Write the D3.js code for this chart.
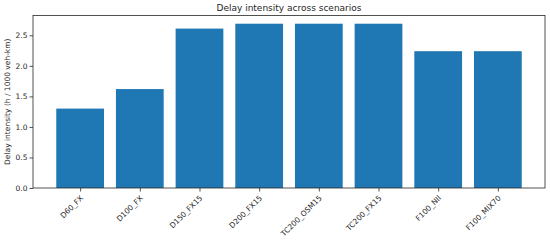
<!DOCTYPE html>
<html>
<head>
<meta charset="utf-8">
<script src="https://cdn.jsdelivr.net/npm/d3@7"></script>
<style>
body { margin: 0; background: #fff; }
text { font-family: "DejaVu Sans", sans-serif; fill: #262626; }
</style>
</head>
<body>
<div id="chart-area"></div>
<script>
// Data
var scenarios = ["D60_FX", "D100_FX", "D150_FX15", "D200_FX15", "TC200_OSM15", "TC200_FX15", "F100_NII", "F100_MIX70"];
var delayValues = [1.30, 1.62, 2.61, 2.69, 2.69, 2.69, 2.24, 2.24];
var yTicks = [0.0, 0.5, 1.0, 1.5, 2.0, 2.5];

var margin = { left: 33, right: 5, top: 15.5, bottom: 52 },
    width = 550 - margin.left - margin.right,
    height = 240 - margin.top - margin.bottom;

var svg = d3.select("#chart-area").append("svg")
    .attr("width", 550)
    .attr("height", 240);

var g = svg.append("g")
    .attr("transform", "translate(" + margin.left + "," + margin.top + ")");

// Scales (matplotlib-like margins)
var x_scale = d3.scaleLinear().domain([-0.79, 7.79]).range([0, width]);
var y_scale = d3.scaleLinear().domain([0, 2.69 * 1.05]).range([height, 0]);
var barWidth = 0.8;

// Bars
g.selectAll(".bar")
    .data(delayValues)
    .enter().append("rect")
    .attr("class", "bar")
    .attr("x", function(d, i) { return x_scale(i - barWidth / 2); })
    .attr("width", x_scale(barWidth) - x_scale(0))
    .attr("y", function(d) { return y_scale(d); })
    .attr("height", function(d) { return height - y_scale(d); })
    .attr("fill", "#1f77b4");

// Axes
var xAxisCall = d3.axisBottom(x_scale)
    .tickValues(d3.range(scenarios.length))
    .tickFormat(function(i) { return scenarios[i]; })
    .tickSize(3.5)
    .tickSizeOuter(0);
var yAxisCall = d3.axisLeft(y_scale)
    .tickValues(yTicks)
    .tickFormat(d3.format(".1f"))
    .tickSize(3.5)
    .tickSizeOuter(0);

var xAxis = g.append("g")
    .attr("transform", "translate(0," + height + ")")
    .call(xAxisCall);
xAxis.select(".domain").remove();
xAxis.selectAll("text")
    .attr("font-size", "7.5px")
    .attr("text-anchor", "end")
    .attr("dy", null)
    .attr("y", 0)
    .attr("transform", "translate(3,10.5) rotate(-45)");

var yAxis = g.append("g").call(yAxisCall);
yAxis.select(".domain").remove();
yAxis.selectAll("text")
    .attr("font-size", "7.5px")
    .attr("x", -5.5);

g.selectAll(".tick line").attr("stroke", "#262626").attr("stroke-width", 0.8);

// Frame
g.append("rect")
    .attr("width", width)
    .attr("height", height)
    .attr("fill", "none")
    .attr("stroke", "#262626")
    .attr("stroke-width", 0.8);

// Title
svg.append("text")
    .attr("x", margin.left + width / 2)
    .attr("y", 11)
    .attr("text-anchor", "middle")
    .attr("font-size", "9px")
    .text("Delay intensity across scenarios");

// Y label
svg.append("text")
    .attr("transform", "rotate(-90)")
    .attr("x", -(margin.top + height / 2))
    .attr("y", 10)
    .attr("text-anchor", "middle")
    .attr("font-size", "7.5px")
    .text("Delay intensity (h / 1000 veh-km)");
</script>
</body>
</html>
